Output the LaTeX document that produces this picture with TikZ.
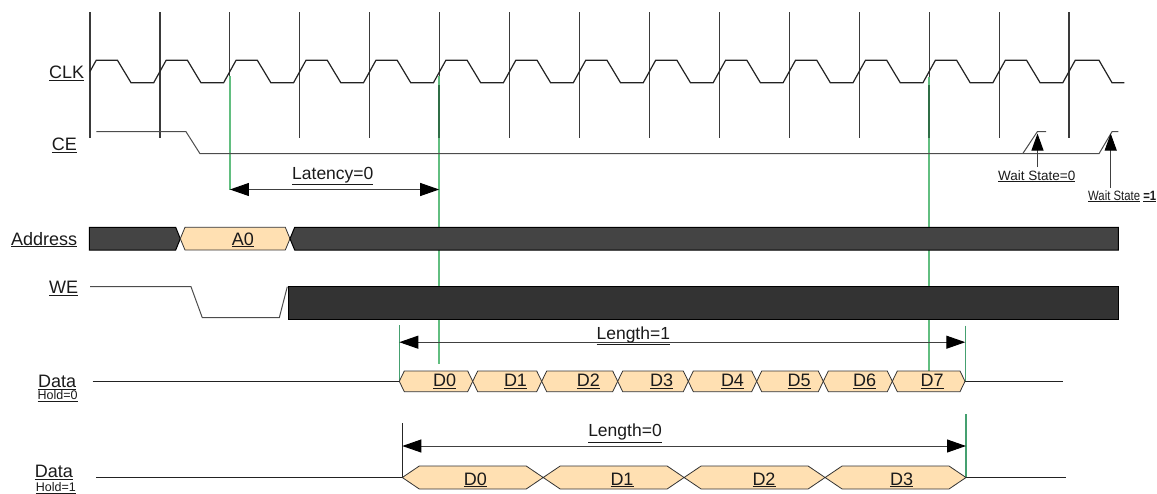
\documentclass[tikz,border=0pt]{standalone}
\usepackage{fontspec}
\setmainfont{Liberation Sans}
\usetikzlibrary{arrows.meta}
\definecolor{txt}{HTML}{1A1A1A}
\definecolor{wavec}{HTML}{222222}
\definecolor{clkc}{HTML}{3A3A3A}
\definecolor{busA}{HTML}{444444}
\definecolor{busW}{HTML}{333333}
\definecolor{orng}{HTML}{FFE0B2}
\definecolor{glight}{HTML}{62BE80}
\definecolor{gmid}{HTML}{45A070}
\definecolor{gdark}{HTML}{2F6E46}
\begin{document}
\begin{tikzpicture}[x=1pt,y=-1pt,
  lbl/.style={inner sep=0pt, text=txt, font=\fontsize{18}{20}\selectfont},
  midlbl/.style={inner sep=0pt, text=txt, font=\fontsize{17.5}{19}\selectfont},
  smalllbl/.style={inner sep=0pt, text=txt, font=\fontsize{13.5}{15}\selectfont},
  holdlbl/.style={inner sep=0pt, text=txt, font=\fontsize{12.5}{14}\selectfont},
  clkline/.style={draw=clkc, line width=1.2pt},
  wave/.style={draw=wavec, line width=1.2pt},
  thinwave/.style={draw=black!70, line width=1pt},
  darkbus/.style={draw=black, line width=1pt},
  databox/.style={fill=orng, draw=black!80, line width=0.8pt},
  dimarrow/.style={draw=black!75, line width=1pt, {Triangle[length=19pt,width=13pt,color=black,fill=black]}-{Triangle[length=19pt,width=13pt,color=black,fill=black]}},
  uparrow/.style={draw=black!75, line width=1pt, -{Triangle[length=17pt,width=12pt,color=black,fill=black]}},
  gline/.style={draw=glight, line width=1.5pt},
  gline2/.style={draw=gmid, line width=1.2pt},
]
\useasboundingbox (0,0) rectangle (1157,493);

% ---------------- clock grid lines
\foreach \k in {0,...,14} {
  \draw[clkline] ({90+69.93*\k},12) -- ({90+69.93*\k},138);
}
% green marker lines
\draw[gline] (229.9,76) -- (229.9,189.5);
\draw[gline] (439.2,76) -- (439.2,364.3);
\draw[gline] (929.2,77) -- (929.2,371.7);
\draw[draw=gdark, line width=1.5pt] (439.2,85) -- (439.2,138);
\draw[draw=gdark, line width=1.5pt] (929.2,85) -- (929.2,138);
\draw[gline2] (399.3,325) -- (399.3,381.3);
\draw[gline2] (965.3,325.7) -- (965.3,381.3);
\draw[gline2] (966,414) -- (966,477.5);
\draw[draw=black!85, line width=1pt] (402.3,423.3) -- (402.3,477.5);

% ---------------- CLK waveform
\draw[wave] (90,71.5) -- (96.2,60.3)
  \foreach \k in {0,...,13} {
    -- ({90+69.93*\k+27.5},60.3) -- ({90+69.93*\k+41},82.7)
    -- ({90+69.93*(\k+1)-6.2},82.7) -- ({90+69.93*(\k+1)+6.2},60.3)
  }
  -- (1099,60.3) -- (1112,82.7) -- (1124.3,82.7);

% ---------------- CE waveform
\draw[thinwave] (96.3,131.7) -- (186,131.7) -- (200,153.7) -- (1099,153.7)
  -- (1112,131.7) -- (1118.3,131.7);
\draw[thinwave] (1022.7,153.7) -- (1037.3,131.7) -- (1046,131.7);

% ---------------- Address bus
\filldraw[darkbus, fill=busA] (89.3,227.3) -- (175.7,227.3) -- (180.3,238.7) -- (175.7,250) -- (89.3,250) -- cycle;
\filldraw[databox] (180.3,238.7) -- (185,227.3) -- (285.3,227.3) -- (290,238.7) -- (285.3,250) -- (185,250) -- cycle;
\filldraw[darkbus, fill=busA] (290,238.7) -- (294.7,227.3) -- (1118.3,227.3) -- (1118.3,250) -- (294.7,250) -- cycle;
\node[lbl, anchor=base] (a0) at (242.8,245) {\underline{A0}};

% ---------------- WE
\draw[thinwave] (90,286.7) -- (191,286.7) -- (202.3,317.7) -- (279.3,317.7) -- (287.3,286.7);
\filldraw[darkbus, fill=busW] (288.3,286.3) rectangle (1118.3,319.3);

% ---------------- Data Hold=0
\draw[wave] (92.7,381.3) -- (399.3,381.3);
\draw[wave] (965,381.3) -- (1063.3,381.3);
\foreach \a/\b in {399.3/472.7, 472.7/541.7, 541.7/617.7, 617.7/688.3, 688.3/756.7, 756.7/823.3, 823.3/892.3, 892.3/965} {
  \filldraw[databox] (\a,381.3) -- ({\a+5},371) -- ({\b-5},371) -- (\b,381.3) -- ({\b-5},391.7) -- ({\a+5},391.7) -- cycle;
}
\foreach \n/\x in {0/444.7, 1/515.5, 2/588.3, 3/661.7, 4/732.5, 5/799.2, 6/864.7, 7/932} {
  \node[lbl, anchor=base] (h0d\n) at (\x,386.9) {\underline{D\n}};
}

% ---------------- Data Hold=1
\draw[wave] (96,477.5) -- (402.3,477.5);
\draw[wave] (966,477.5) -- (1066,477.5);
\foreach \a/\b in {402.3/543.2, 543.2/684.1, 684.1/825.1, 825.1/966} {
  \filldraw[databox] (\a,477.5) -- ({\a+17},466) -- ({\b-17},466) -- (\b,477.5) -- ({\b-17},489) -- ({\a+17},489) -- cycle;
}
\foreach \n/\x in {0/475.3, 1/622, 2/764, 3/901.7} {
  \node[lbl, anchor=base] (h1d\n) at (\x,485) {\underline{D\n}};
}

% ---------------- signal names
\node[lbl, anchor=base east] (clk) at (84.3,78.3) {\underline{CLK}};
\node[lbl, anchor=base east] (ce) at (77,150.7) {\underline{CE}};
\node[lbl, anchor=base east] (addr) at (77.3,245) {\underline{Address}};
\node[lbl, anchor=base east] (we) at (78.3,293.3) {\underline{WE}};
\node[lbl, anchor=base] (data0) at (57.2,387.7) {\underline{Data}};
\node[holdlbl, anchor=base] (hold0) at (57.7,399.3) {\underline{Hold=0}};
\node[lbl, anchor=base] (data1) at (53.8,477.7) {\underline{Data}};
\node[holdlbl, anchor=base] (hold1) at (55.8,491.5) {\underline{Hold=1}};

% ---------------- dimension arrows
\coordinate (latL) at (229.9,189.5);
\coordinate (latR) at (439.2,189.5);
\draw[dimarrow] (latL) -- (latR);
\node[midlbl, anchor=base] (lat) at (332.8,179) {\underline{Latency=0}};

\coordinate (l1L) at (399.3,342.2);
\coordinate (l1R) at (965.3,342.2);
\draw[dimarrow] (l1L) -- (l1R);
\node[midlbl, anchor=base] (len1) at (633.3,339.3) {\underline{Length=1}};

\coordinate (l0L) at (402.3,446);
\coordinate (l0R) at (966,446);
\draw[dimarrow] (l0L) -- (l0R);
\node[midlbl, anchor=base] (len0) at (625,436.7) {\underline{Length=0}};

% ---------------- wait state arrows
\node[smalllbl, anchor=base] (ws0) at (1036.7,180) {\underline{Wait State=0}};
\coordinate (ws0tip) at (1037.5,133.5);
\draw[uparrow] (1037.5,167) -- (ws0tip);
\node[smalllbl, anchor=base west] (ws1) at (1088,200) {\scalebox{0.84}[1]{\underline{Wait State} \underline{\bfseries =1}}};
\coordinate (ws1tip) at (1110.7,133.5);
\draw[uparrow] (1110.7,187.5) -- (ws1tip);
\end{tikzpicture}
\end{document}
